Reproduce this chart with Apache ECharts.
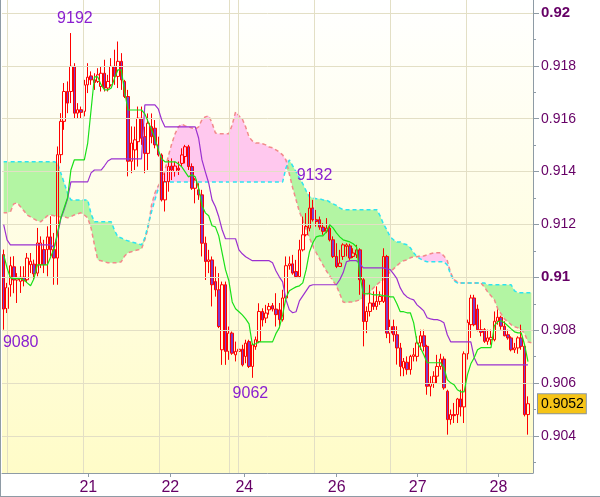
<!DOCTYPE html>
<html><head><meta charset="utf-8">
<script src="https://cdn.jsdelivr.net/npm/echarts@6/dist/echarts.min.js"></script>
<style>html,body{margin:0;padding:0;background:#fff;}#c{width:600px;height:497px;}</style>
</head><body><div id="c"></div>
<script>
const opens = [0.91086,0.90882,0.90972,0.91040,0.90990,0.90985,0.91001,0.90991,0.91048,0.91050,
0.91016,0.91048,0.91105,0.91105,0.91153,0.91105,0.91073,0.91464,0.91590,0.91703,
0.91703,0.91798,0.91621,0.91634,0.91628,0.91728,0.91762,0.91747,0.91741,0.91722,
0.91772,0.91716,0.91728,0.91798,0.91760,0.91817,0.91741,0.91684,0.91439,0.91482,
0.91513,0.91602,0.91532,0.91469,0.91570,0.91564,0.91501,0.91463,0.91293,0.91362,
0.91421,0.91400,0.91413,0.91431,0.91457,0.91494,0.91419,0.91337,0.91331,0.91312,
0.91129,0.91060,0.91066,0.90984,0.90953,0.90726,0.90972,0.90720,0.90789,0.90707,
0.90720,0.90728,0.90701,0.90757,0.90663,0.90738,0.90757,0.90871,0.90846,0.90877,
0.90893,0.90880,0.90877,0.90840,0.90922,0.91044,0.91051,0.91022,0.91003,0.91104,
0.91161,0.91186,0.91262,0.91218,0.91218,0.91190,0.91174,0.91186,0.91142,0.91079,
0.91041,0.91079,0.91117,0.91119,0.91079,0.91085,0.91104,0.90991,0.90833,0.90871,
0.90903,0.90890,0.90909,0.90909,0.91079,0.90789,0.90814,0.90783,0.90733,0.90657,
0.90679,0.90651,0.90701,0.90701,0.90752,0.90779,0.90739,0.90588,0.90600,0.90626,
0.90663,0.90691,0.90569,0.90462,0.90481,0.90481,0.90540,0.90510,0.90711,0.90821,
0.90922,0.90880,0.90802,0.90802,0.90758,0.90764,0.90764,0.90834,0.90849,0.90815,
0.90783,0.90771,0.90726,0.90733,0.90771,0.90739,0.90481];
const closes = [0.90880,0.90961,0.91044,0.90990,0.91000,0.91001,0.90987,0.91073,0.91061,0.91013,
0.91130,0.91130,0.91048,0.91153,0.91105,0.91073,0.91464,0.91590,0.91703,0.91659,
0.91798,0.91621,0.91634,0.91624,0.91728,0.91757,0.91747,0.91737,0.91766,0.91772,
0.91716,0.91741,0.91798,0.91760,0.91817,0.91747,0.91684,0.91439,0.91508,0.91520,
0.91602,0.91526,0.91469,0.91583,0.91532,0.91501,0.91463,0.91293,0.91362,0.91419,
0.91406,0.91421,0.91406,0.91463,0.91494,0.91419,0.91337,0.91368,0.91312,0.91129,
0.91060,0.91066,0.90972,0.90953,0.90814,0.90972,0.90720,0.90789,0.90713,0.90720,
0.90728,0.90669,0.90751,0.90663,0.90745,0.90764,0.90871,0.90839,0.90865,0.90890,
0.90880,0.90859,0.90840,0.90922,0.91044,0.91051,0.91016,0.91003,0.91104,0.91161,
0.91192,0.91262,0.91218,0.91211,0.91190,0.91174,0.91186,0.91142,0.91079,0.91041,
0.91054,0.91123,0.91123,0.91073,0.91092,0.91104,0.90991,0.90833,0.90871,0.90903,
0.90890,0.90909,0.90928,0.91079,0.90789,0.90814,0.90783,0.90733,0.90663,0.90682,
0.90651,0.90701,0.90707,0.90752,0.90779,0.90739,0.90588,0.90600,0.90626,0.90663,
0.90691,0.90582,0.90462,0.90481,0.90477,0.90540,0.90510,0.90711,0.90830,0.90922,
0.90821,0.90802,0.90792,0.90758,0.90771,0.90773,0.90834,0.90849,0.90815,0.90779,
0.90771,0.90726,0.90733,0.90771,0.90739,0.90481,0.90522];
const lows = [0.90802,0.90865,0.90927,0.90940,0.90903,0.90941,0.90966,0.90979,0.91016,0.90991,
0.91004,0.91035,0.91016,0.91004,0.91079,0.90972,0.90972,0.91432,0.91558,0.91621,
0.91659,0.91602,0.91602,0.91602,0.91609,0.91697,0.91728,0.91709,0.91735,0.91703,
0.91703,0.91703,0.91722,0.91728,0.91716,0.91709,0.91678,0.91382,0.91394,0.91406,
0.91419,0.91501,0.91394,0.91406,0.91507,0.91488,0.91457,0.91287,0.91249,0.91324,
0.91368,0.91381,0.91387,0.91419,0.91431,0.91406,0.91331,0.91280,0.91293,0.91079,
0.90990,0.91016,0.90890,0.90927,0.90808,0.90669,0.90669,0.90688,0.90707,0.90682,
0.90701,0.90663,0.90675,0.90657,0.90620,0.90726,0.90751,0.90814,0.90827,0.90859,
0.90871,0.90814,0.90808,0.90833,0.90915,0.91029,0.91010,0.90997,0.90997,0.91098,
0.91155,0.91174,0.91211,0.91192,0.91180,0.91161,0.91167,0.91136,0.91073,0.91035,
0.91039,0.91066,0.91079,0.91066,0.91073,0.91073,0.90934,0.90739,0.90789,0.90852,
0.90877,0.90877,0.90896,0.90903,0.90770,0.90751,0.90757,0.90670,0.90626,0.90626,
0.90632,0.90632,0.90682,0.90682,0.90726,0.90720,0.90556,0.90550,0.90582,0.90600,
0.90651,0.90575,0.90405,0.90443,0.90449,0.90449,0.90474,0.90449,0.90689,0.90771,
0.90815,0.90796,0.90777,0.90752,0.90745,0.90745,0.90758,0.90821,0.90802,0.90777,
0.90764,0.90720,0.90714,0.90711,0.90726,0.90474,0.90405];
const highs = [0.91105,0.90979,0.91078,0.91080,0.91016,0.91042,0.91042,0.91092,0.91092,0.91067,
0.91187,0.91155,0.91142,0.91193,0.91231,0.91168,0.91495,0.91621,0.91735,0.91741,
0.91924,0.91810,0.91659,0.91646,0.91747,0.91810,0.91779,0.91772,0.91791,0.91798,
0.91823,0.91766,0.91829,0.91861,0.91892,0.91848,0.91747,0.91709,0.91571,0.91570,
0.91646,0.91646,0.91570,0.91620,0.91620,0.91595,0.91532,0.91469,0.91394,0.91444,
0.91450,0.91438,0.91438,0.91488,0.91501,0.91501,0.91431,0.91375,0.91356,0.91331,
0.91154,0.91104,0.91079,0.91041,0.91016,0.90984,0.90984,0.90814,0.90795,0.90757,
0.90757,0.90745,0.90764,0.90764,0.90751,0.90776,0.90902,0.90883,0.90896,0.90903,
0.90903,0.90940,0.90903,0.90953,0.91079,0.91079,0.91085,0.91066,0.91142,0.91230,
0.91243,0.91323,0.91293,0.91255,0.91230,0.91205,0.91224,0.91199,0.91155,0.91129,
0.91104,0.91129,0.91129,0.91127,0.91110,0.91123,0.91110,0.90997,0.90890,0.90972,
0.90947,0.90966,0.90947,0.91110,0.91085,0.90840,0.90840,0.90815,0.90752,0.90695,
0.90701,0.90707,0.90733,0.90777,0.90802,0.90802,0.90745,0.90626,0.90645,0.90707,
0.90711,0.90701,0.90575,0.90500,0.90525,0.90544,0.90575,0.90720,0.90840,0.90934,
0.90934,0.90897,0.90840,0.90808,0.90802,0.90802,0.90871,0.90878,0.90855,0.90834,
0.90802,0.90777,0.90752,0.90777,0.90821,0.90745,0.90550];

const tenkan = [0.91085,0.91036,0.90998,0.90995,0.90995,0.90995,0.90991,0.90979,0.90968,0.90995,
0.91047,0.91047,0.91047,0.91047,0.91078,0.91108,0.91168,0.91225,0.91263,0.91301,
0.91406,0.91444,0.91444,0.91444,0.91444,0.91508,0.91633,0.91758,0.91758,0.91728,
0.91709,0.91709,0.91716,0.91754,0.91785,0.91785,0.91701,0.91633,0.91633,0.91633,
0.91633,0.91633,0.91618,0.91588,0.91558,0.91527,0.91482,0.91448,0.91437,0.91437,
0.91437,0.91437,0.91429,0.91418,0.91399,0.91380,0.91388,0.91380,0.91338,0.91272,
0.91244,0.91233,0.91195,0.91191,0.91157,0.91093,0.91029,0.90987,0.90907,0.90881,
0.90870,0.90858,0.90843,0.90824,0.90745,0.90749,0.90756,0.90756,0.90756,0.90756,
0.90756,0.90787,0.90809,0.90858,0.90923,0.90949,0.90957,0.90964,0.90968,0.90979,
0.91029,0.91097,0.91131,0.91153,0.91157,0.91157,0.91172,0.91199,0.91187,0.91168,
0.91153,0.91142,0.91138,0.91134,0.91127,0.91115,0.91006,0.90938,0.90938,0.90938,
0.90934,0.90934,0.90934,0.90930,0.90930,0.90926,0.90926,0.90900,0.90870,0.90870,
0.90866,0.90866,0.90828,0.90753,0.90734,0.90707,0.90677,0.90677,0.90677,0.90677,
0.90677,0.90658,0.90613,0.90601,0.90594,0.90575,0.90567,0.90567,0.90632,0.90673,
0.90696,0.90726,0.90734,0.90734,0.90734,0.90734,0.90817,0.90832,0.90836,0.90828,
0.90817,0.90805,0.90794,0.90790,0.90790,0.90745,0.90681];
const kijun = [0.91199,0.91142,0.91123,0.91123,0.91123,0.91123,0.91123,0.91123,0.91123,0.91123,
0.91123,0.91123,0.91123,0.91123,0.91123,0.91112,0.91161,0.91221,0.91256,0.91297,
0.91361,0.91361,0.91361,0.91361,0.91361,0.91361,0.91395,0.91406,0.91406,0.91406,
0.91422,0.91440,0.91448,0.91448,0.91448,0.91448,0.91448,0.91448,0.91448,0.91448,
0.91448,0.91448,0.91652,0.91652,0.91652,0.91652,0.91637,0.91596,0.91569,0.91569,
0.91569,0.91569,0.91569,0.91569,0.91569,0.91569,0.91569,0.91569,0.91527,0.91444,
0.91399,0.91357,0.91293,0.91267,0.91229,0.91180,0.91146,0.91146,0.91146,0.91146,
0.91104,0.91089,0.91078,0.91070,0.91063,0.91063,0.91063,0.91063,0.91063,0.91063,
0.91055,0.91025,0.91002,0.90983,0.90915,0.90877,0.90866,0.90870,0.90911,0.90930,
0.90949,0.90968,0.90972,0.90972,0.90972,0.90972,0.90972,0.90972,0.90972,0.90972,
0.90991,0.91017,0.91059,0.91063,0.91063,0.91063,0.91051,0.91036,0.91036,0.91036,
0.91036,0.91036,0.91036,0.91036,0.91032,0.91029,0.91013,0.90995,0.90960,0.90938,
0.90926,0.90919,0.90915,0.90896,0.90885,0.90873,0.90847,0.90843,0.90840,0.90840,
0.90836,0.90828,0.90783,0.90756,0.90756,0.90756,0.90756,0.90756,0.90756,0.90756,
0.90696,0.90669,0.90669,0.90669,0.90669,0.90669,0.90669,0.90669,0.90669,0.90669,
0.90669,0.90669,0.90669,0.90669,0.90669,0.90669,0.90669];
const senkouA = [0.91244,0.91244,0.91248,0.91278,0.91282,0.91267,0.91252,0.91236,0.91229,0.91221,
0.91214,0.91210,0.91221,0.91233,0.91236,0.91233,0.91229,0.91229,0.91229,0.91225,
0.91229,0.91236,0.91240,0.91244,0.91236,0.91225,0.91187,0.91123,0.91066,0.91063,
0.91059,0.91055,0.91055,0.91055,0.91055,0.91059,0.91081,0.91093,0.91097,0.91101,
0.91104,0.91108,0.91142,0.91187,0.91274,0.91319,0.91346,0.91365,0.91406,0.91459,
0.91505,0.91543,0.91569,0.91580,0.91573,0.91569,0.91565,0.91561,0.91569,0.91596,
0.91607,0.91611,0.91584,0.91546,0.91543,0.91543,0.91543,0.91543,0.91577,0.91626,
0.91611,0.91599,0.91569,0.91531,0.91516,0.91508,0.91508,0.91505,0.91501,0.91493,
0.91490,0.91482,0.91474,0.91463,0.91444,0.91391,0.91338,0.91293,0.91248,0.91217,
0.91180,0.91149,0.91119,0.91093,0.91070,0.91047,0.91025,0.91006,0.90987,0.90968,
0.90938,0.90907,0.90904,0.90907,0.90907,0.90911,0.90915,0.90923,0.90934,0.90945,
0.90960,0.90972,0.90983,0.90991,0.91006,0.91021,0.91032,0.91044,0.91055,0.91063,
0.91066,0.91074,0.91078,0.91078,0.91081,0.91081,0.91085,0.91089,0.91093,0.91093,
0.91093,0.91081,0.91063,0.91017,0.90991,0.90983,0.90979,0.90979,0.90979,0.90979,
0.90979,0.90979,0.90979,0.90964,0.90945,0.90930,0.90915,0.90881,0.90862,0.90843,
0.90832,0.90821,0.90813,0.90809,0.90802,0.90787,0.90756,0.90753];
const senkouB = [0.91437,0.91437,0.91437,0.91437,0.91437,0.91437,0.91437,0.91437,0.91437,0.91437,
0.91437,0.91437,0.91437,0.91437,0.91437,0.91437,0.91433,0.91395,0.91357,0.91319,
0.91293,0.91293,0.91293,0.91293,0.91293,0.91293,0.91240,0.91210,0.91210,0.91210,
0.91210,0.91210,0.91210,0.91177,0.91153,0.91149,0.91142,0.91138,0.91134,0.91131,
0.91127,0.91123,0.91149,0.91199,0.91248,0.91293,0.91335,0.91361,0.91361,0.91361,
0.91361,0.91361,0.91361,0.91361,0.91361,0.91361,0.91361,0.91361,0.91361,0.91361,
0.91361,0.91361,0.91361,0.91361,0.91361,0.91361,0.91361,0.91361,0.91361,0.91361,
0.91361,0.91361,0.91361,0.91361,0.91361,0.91361,0.91361,0.91361,0.91361,0.91361,
0.91361,0.91361,0.91361,0.91361,0.91414,0.91444,0.91422,0.91399,0.91376,0.91354,
0.91327,0.91304,0.91301,0.91297,0.91297,0.91293,0.91293,0.91285,0.91278,0.91272,
0.91263,0.91256,0.91256,0.91256,0.91256,0.91256,0.91256,0.91256,0.91256,0.91256,
0.91256,0.91256,0.91233,0.91202,0.91180,0.91153,0.91142,0.91134,0.91134,0.91127,
0.91123,0.91112,0.91093,0.91078,0.91070,0.91063,0.91059,0.91059,0.91059,0.91059,
0.91059,0.91059,0.91047,0.91010,0.90987,0.90979,0.90979,0.90979,0.90979,0.90979,
0.90979,0.90979,0.90979,0.90979,0.90972,0.90972,0.90972,0.90972,0.90972,0.90972,
0.90972,0.90972,0.90949,0.90942,0.90942,0.90942,0.90942,0.90942];

const yTickValues = [0.904,0.906,0.908,0.91,0.912,0.914,0.916,0.918,0.92];
const yTickLabels = ['0.904','0.906','0.908','0.91','0.912','0.914','0.916','0.918','0.92'];
const yMinorTicks = [0.903,0.905,0.907,0.909,0.911,0.913,0.915,0.917,0.919];
const dayTickPos = [25.2,49.6,71.6,99.1,123.2,147.2];
const dayLabels = ['21','22','24','26','27','28'];
const dayGridPos = [1.1,23.7,46.3,67.0,69.9,92.4,115.0,137.6];
const swingIdx = [20,0,74,91];
const swingKind = ['high','low','low','high'];

const N = senkouA.length;
const categories = senkouA.map((_, i) => String(i));
const candleData = opens.map((o, i) => [o, closes[i], lows[i], highs[i]]);
const cloudBase = senkouA.map((a, i) => Math.min(a, senkouB[i]));
const cloudBull = senkouA.map((a, i) => Math.max(senkouB[i] - a, 0));
const cloudBear = senkouA.map((a, i) => Math.max(a - senkouB[i], 0));

const AX = '#8e9ba5', LBL = '#660066', GRIDC = '#e3dfc5', FONT = 'Liberation Sans, Arial, sans-serif';
const boldLabels = ['0.91', '0.92'];
const swingOffsets = [[4,-14],[17,13],[-2,16],[5,-16]];
const yFmt = v => { const j = yTickValues.findIndex(t => Math.abs(t - v) < 1e-7); return j < 0 ? '' : yTickLabels[j]; };
const xFmt = v => { const j = dayTickPos.findIndex(t => Math.abs(t - v) < 1e-6); return j < 0 ? '' : dayLabels[j]; };

const chart = echarts.init(document.getElementById('c'), null, {renderer: 'canvas'});
const lastClose = closes[closes.length - 1];

chart.setOption({
  animation: false,
  grid: {left: 2, right: 67, top: 0, bottom: 24, show: true, borderWidth: 0, outerBoundsMode: 'none',
    backgroundColor: {type: 'linear', x: 0, y: 0, x2: 0, y2: 1,
      colorStops: [{offset: 0, color: '#ffffff'}, {offset: 1, color: '#fffcc8'}]}},
  xAxis: [
    {type: 'category', data: categories, boundaryGap: true,
     axisLine: {show: true, onZero: false, lineStyle: {color: AX, width: 1}},
     axisTick: {show: false}, axisLabel: {show: false}, splitLine: {show: false}},
    {type: 'value', min: -0.5, max: N - 0.5, position: 'bottom',
     axisLine: {show: false, onZero: false},
     axisTick: {show: true, customValues: dayTickPos, length: 4, inside: false, lineStyle: {color: AX}},
     axisLabel: {show: true, customValues: dayTickPos, formatter: xFmt, color: LBL, fontSize: 16, fontFamily: FONT, margin: 7},
     splitLine: {show: false}}
  ],
  yAxis: [
    {type: 'value', position: 'right', min: 0.9026, max: 0.92049, scale: true,
     axisLine: {show: true, onZero: false, lineStyle: {color: AX}},
     axisTick: {show: true, customValues: yTickValues, length: 6, lineStyle: {color: AX}},
     axisLabel: {show: true, customValues: yTickValues, margin: 8,
       formatter: v => { const s = yFmt(v); return boldLabels.includes(s) ? '{b|' + s + '}' : '{n|' + s + '}'; },
       rich: {n: {color: LBL, fontSize: 14, fontFamily: FONT},
              b: {color: LBL, fontSize: 15, fontWeight: 'bold', fontFamily: FONT}}},
     splitLine: {show: false}},
    {type: 'value', position: 'right', min: 0.9026, max: 0.92049, scale: true,
     axisLine: {show: false, onZero: false},
     axisTick: {show: true, customValues: yMinorTicks, length: 3, lineStyle: {color: AX}},
     axisLabel: {show: false}, splitLine: {show: false}}
  ],
  graphic: [
    {type: 'line', shape: {x1: 0.5, y1: 0, x2: 0.5, y2: 497}, style: {stroke: AX, lineWidth: 1}, z: 100, silent: true},
    {type: 'line', shape: {x1: 0, y1: 496.5, x2: 600, y2: 496.5}, style: {stroke: AX, lineWidth: 1}, z: 100, silent: true}
  ],
  series: [
    {name: 'grid', type: 'line', xAxisIndex: 1, yAxisIndex: 0, data: [], z: 1, silent: true,
     markLine: {silent: true, symbol: ['none', 'none'], animation: false, precision: 6, label: {show: false},
       lineStyle: {color: GRIDC, width: 1, type: 'solid'},
       data: dayGridPos.map(v => ({xAxis: v})).concat(yTickValues.map(v => ({yAxis: v})))}},
    {name: 'cloudBase', type: 'line', xAxisIndex: 0, yAxisIndex: 0, stack: 'cloud', stackStrategy: 'all',
     data: cloudBase, symbol: 'none', lineStyle: {opacity: 0, width: 0}, z: 2, silent: true},
    {name: 'cloudBull', type: 'line', xAxisIndex: 0, yAxisIndex: 0, stack: 'cloud', stackStrategy: 'all',
     data: cloudBull, symbol: 'none', lineStyle: {opacity: 0, width: 0}, areaStyle: {color: '#b3f5a3', opacity: 1}, z: 2, silent: true},
    {name: 'cloudBear', type: 'line', xAxisIndex: 0, yAxisIndex: 0, stack: 'cloud', stackStrategy: 'all',
     data: cloudBear, symbol: 'none', lineStyle: {opacity: 0, width: 0}, areaStyle: {color: '#ffc8ee', opacity: 1}, z: 2, silent: true},
    {name: 'Senkou A', type: 'line', data: senkouA, symbol: 'none', z: 3, silent: true,
     lineStyle: {color: '#f28a8a', width: 1.5, type: [4, 3]}},
    {name: 'Senkou B', type: 'line', data: senkouB, symbol: 'none', z: 3, silent: true,
     lineStyle: {color: '#2ee4f0', width: 1.5, type: [4, 3]}},
    {name: 'price', type: 'candlestick', data: candleData, barWidth: 3, z: 4,
     itemStyle: {color: 'rgba(255,255,255,0)', color0: '#7d3cc8', borderColor: '#ff0000', borderColor0: '#ff0000', borderWidth: 1},
     markPoint: {symbol: 'circle', symbolSize: 0, silent: true, animation: false,
       label: {show: true, position: 'inside', color: '#8a1fd0', fontSize: 16, fontFamily: FONT, formatter: p => String(p.value)},
       data: swingIdx.map((idx, k) => {
         const v = swingKind[k] === 'high' ? highs[idx] : lows[idx];
         return {coord: [idx, v], value: Math.round(v * 10000), label: {offset: swingOffsets[k]}};
       })}},
    {name: 'lastPrice', type: 'line', data: [], z: 10, silent: true,
     markLine: {silent: true, symbol: ['none', 'none'], animation: false, precision: 6,
       lineStyle: {color: 'rgba(0,0,0,0)', width: 1, opacity: 1},
       label: {show: true, position: 'end', distance: 5, formatter: p => Number(p.value).toFixed(4),
         color: '#000', fontSize: 14, fontFamily: FONT, backgroundColor: '#f6c417', opacity: 1,
         borderColor: '#8a96a0', borderWidth: 1, padding: [3, 2, 2, 3]},
       data: [{yAxis: lastClose}]}},
    {name: 'Kijun', type: 'line', data: kijun, symbol: 'none', z: 5, silent: true,
     lineStyle: {color: '#9b30d0', width: 1.2}},
    {name: 'Tenkan', type: 'line', data: tenkan, symbol: 'none', z: 5, silent: true,
     lineStyle: {color: '#19e019', width: 1.2}}
  ]
});
</script>
</body></html>
